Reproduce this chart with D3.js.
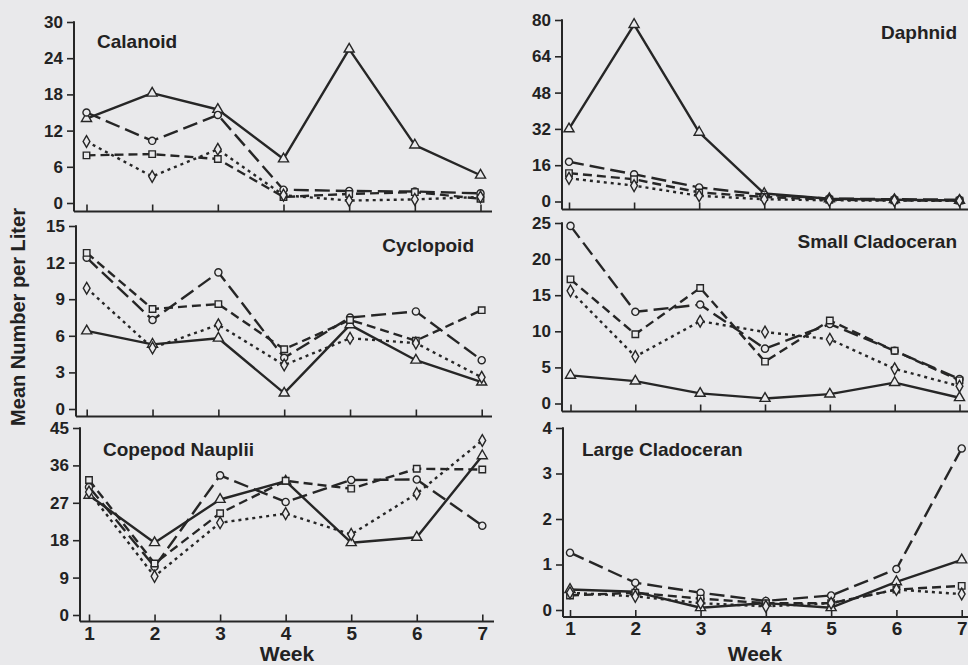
<!DOCTYPE html>
<html><head><meta charset="utf-8">
<script src="https://cdn.jsdelivr.net/npm/d3@7/dist/d3.min.js"></script>
<style>
html,body{margin:0;padding:0;background:#e9e9eb;}
svg{display:block;}
text{font-family:"Liberation Sans",Arial,Helvetica,sans-serif;font-weight:bold;fill:#222;}
</style></head>
<body>
<svg id="chart" width="968" height="665"></svg>
<script>
// ---------- data ----------
const weeks = [1, 2, 3, 4, 5, 6, 7];
const seriesKeys = ["solid", "longdash", "dash", "dotted"]; // triangle, circle, square, diamond

const calanoidSolid    = [14, 18.2, 15.5, 7.3, 25.5, 9.6, 4.6];
const calanoidLongdash = [15, 10.3, 14.6, 2.2, 2.0, 1.9, 1.6];
const calanoidDash     = [7.9, 8.1, 7.3, 1.0, 1.5, 1.8, 0.7];
const calanoidDotted   = [10.2, 4.4, 8.9, 1.3, 0.4, 0.6, 1.0];

const daphnidSolid    = [32, 78, 30.5, 3.5, 1.2, 0.8, 0.5];
const daphnidLongdash = [17.5, 12, 6.2, 3.0, 1.3, 1.0, 0.8];
const daphnidDash     = [12.5, 9.8, 4.0, 2.0, 0.8, 0.5, 0.4];
const daphnidDotted   = [10.2, 7.0, 2.5, 1.0, 0.5, 0.4, 0.3];

const cyclopoidSolid    = [6.4, 5.3, 5.8, 1.3, 6.9, 4.0, 2.2];
const cyclopoidLongdash = [12.4, 7.3, 11.2, 4.2, 7.5, 8.0, 4.0];
const cyclopoidDash     = [12.8, 8.2, 8.6, 4.9, 7.3, 5.6, 8.1];
const cyclopoidDotted   = [9.9, 5.0, 6.9, 3.6, 5.8, 5.4, 2.6];

const smallCladSolid    = [3.9, 3.1, 1.4, 0.7, 1.3, 2.9, 0.8];
const smallCladLongdash = [24.6, 12.7, 13.7, 7.6, 11.0, 7.3, 3.4];
const smallCladDash     = [17.2, 9.6, 16.0, 5.8, 11.5, 7.3, 3.2];
const smallCladDotted   = [15.6, 6.5, 11.4, 9.9, 8.9, 4.8, 2.4];

const naupliiSolid    = [28.8, 17.4, 27.8, 32.2, 17.4, 18.7, 38.3];
const naupliiLongdash = [30.8, 11.6, 33.6, 27.2, 32.5, 32.6, 21.5];
const naupliiDash     = [32.5, 12.4, 24.5, 32.3, 30.4, 35.2, 35.0];
const naupliiDotted   = [29.6, 9.3, 22.2, 24.4, 19.4, 29.2, 42.0];

const largeCladSolid    = [0.45, 0.4, 0.05, 0.15, 0.05, 0.62, 1.1];
const largeCladLongdash = [1.26, 0.6, 0.38, 0.2, 0.32, 0.9, 3.55];
const largeCladDash     = [0.32, 0.38, 0.25, 0.15, 0.15, 0.45, 0.53];
const largeCladDotted   = [0.38, 0.3, 0.15, 0.08, 0.15, 0.45, 0.35];

const calanoidTicks  = [0, 6, 12, 18, 24, 30];
const daphnidTicks   = [0, 16, 32, 48, 64, 80];
const cyclopoidTicks = [0, 3, 6, 9, 12, 15];
const smallCladTicks = [0, 5, 10, 15, 20, 25];
const naupliiTicks   = [0, 9, 18, 27, 36, 45];
const largeCladTicks = [0, 1, 2, 3, 4];

const panelTitles = ["Calanoid", "Daphnid", "Cyclopoid", "Small Cladoceran", "Copepod Nauplii", "Large Cladoceran"];

// ---------- layout ----------
const panels = [
  {title: panelTitles[0], ticks: calanoidTicks, data: [calanoidSolid, calanoidLongdash, calanoidDash, calanoidDotted],
   ax: 74, y0: 203, yTop: 22, axisY: 211.5, x1: 86.5, x7: 480.5, xEnd: 492, labels: false,
   tx: 97, ty: 48, anchor: "start"},
  {title: panelTitles[1], ticks: daphnidTicks, data: [daphnidSolid, daphnidLongdash, daphnidDash, daphnidDotted],
   ax: 562, y0: 201.5, yTop: 20, axisY: 209.5, x1: 569, x7: 959.5, xEnd: 968, labels: false,
   tx: 957, ty: 39, anchor: "end"},
  {title: panelTitles[2], ticks: cyclopoidTicks, data: [cyclopoidSolid, cyclopoidLongdash, cyclopoidDash, cyclopoidDotted],
   ax: 76, y0: 409, yTop: 226, axisY: 416.5, x1: 86.7, x7: 481.7, xEnd: 492, labels: false,
   tx: 474, ty: 252, anchor: "end"},
  {title: panelTitles[3], ticks: smallCladTicks, data: [smallCladSolid, smallCladLongdash, smallCladDash, smallCladDotted],
   ax: 562, y0: 403.5, yTop: 223, axisY: 411.5, x1: 570.5, x7: 959.5, xEnd: 968, labels: false,
   tx: 957, ty: 248, anchor: "end"},
  {title: panelTitles[4], ticks: naupliiTicks, data: [naupliiSolid, naupliiLongdash, naupliiDash, naupliiDotted],
   ax: 80, y0: 615, yTop: 428, axisY: 621.5, x1: 89, x7: 482.3, xEnd: 494, labels: true,
   tx: 103, ty: 456, anchor: "start"},
  {title: panelTitles[5], ticks: largeCladTicks, data: [largeCladSolid, largeCladLongdash, largeCladDash, largeCladDotted],
   ax: 563, y0: 610, yTop: 428, axisY: 617, x1: 570, x7: 961.7, xEnd: 968, labels: true,
   tx: 582, ty: 456, anchor: "start"}
];

const ink = "#262626";
const bg = "#e9e9eb";
const dashes = {solid: null, longdash: "15,6", dash: "9,5", dotted: "3,4"};
const symbols = {solid: d3.symbolTriangle, longdash: d3.symbolCircle, dash: d3.symbolSquare, dotted: d3.symbolDiamond};
const symSize = {solid: 44, longdash: 40, dash: 42, dotted: 40};

const svg = d3.select("#chart");
svg.append("rect").attr("width", 968).attr("height", 665).attr("fill", bg);

panels.forEach(p => {
  const maxT = p.ticks[p.ticks.length - 1];
  const x = d3.scaleLinear().domain([1, 7]).range([p.x1, p.x7]);
  const y = d3.scaleLinear().domain([0, maxT]).range([p.y0, p.yTop]);
  const g = svg.append("g");

  // y axis
  const ya = g.append("g").attr("transform", `translate(${p.ax},0)`)
    .call(d3.axisLeft(y).tickValues(p.ticks).tickSize(7).tickPadding(4).tickFormat(d3.format("d")));
  ya.select(".domain").remove();
  ya.selectAll(".tick line").attr("stroke", ink).attr("stroke-width", 1.6);
  ya.selectAll(".tick text").attr("font-size", 17).attr("font-weight", "bold")
    .attr("font-family", "Liberation Sans, Arial, sans-serif").attr("fill", ink);
  g.append("line").attr("x1", p.ax).attr("x2", p.ax).attr("y1", y(maxT) - 0.8).attr("y2", p.axisY)
    .attr("stroke", ink).attr("stroke-width", 2);

  // x axis
  const xa = g.append("g").attr("transform", `translate(0,${p.axisY})`)
    .call(d3.axisBottom(x).tickValues(weeks).tickSizeInner(-7).tickSizeOuter(0).tickPadding(5)
      .tickFormat(p.labels ? d3.format("d") : () => ""));
  xa.select(".domain").remove();
  xa.selectAll(".tick line").attr("stroke", ink).attr("stroke-width", 1.6);
  xa.selectAll(".tick text").attr("font-size", 19).attr("font-weight", "bold")
    .attr("font-family", "Liberation Sans, Arial, sans-serif").attr("fill", ink);
  g.append("line").attr("x1", p.ax).attr("x2", p.xEnd).attr("y1", p.axisY).attr("y2", p.axisY)
    .attr("stroke", ink).attr("stroke-width", 2);

  // lines
  const line = d3.line().x((d, i) => x(weeks[i])).y(d => y(d));
  p.data.forEach((vals, si) => {
    const key = seriesKeys[si];
    g.append("path").datum(vals).attr("d", line).attr("fill", "none")
      .attr("stroke", ink).attr("stroke-width", 2.4)
      .attr("stroke-dasharray", dashes[key]).attr("stroke-linejoin", "round");
  });
  // markers
  p.data.forEach((vals, si) => {
    const key = seriesKeys[si];
    const sym = d3.symbol().type(symbols[key]).size(symSize[key]);
    g.selectAll(null).data(vals).enter().append("path")
      .attr("d", sym)
      .attr("transform", (d, i) => `translate(${x(weeks[i])},${y(d)})`)
      .attr("fill", bg).attr("stroke", ink).attr("stroke-width", 1.4);
  });

  // title
  g.append("text").attr("x", p.tx).attr("y", p.ty).attr("text-anchor", p.anchor)
    .attr("font-size", 19).text(p.title);
});

// axis titles
svg.append("text").attr("x", 287).attr("y", 661).attr("text-anchor", "middle").attr("font-size", 21).text("Week");
svg.append("text").attr("x", 755).attr("y", 661).attr("text-anchor", "middle").attr("font-size", 21).text("Week");
svg.append("text").attr("transform", "translate(25,317) rotate(-90)").attr("text-anchor", "middle")
  .attr("font-size", 20).text("Mean Number per Liter");
</script>
</body></html>
